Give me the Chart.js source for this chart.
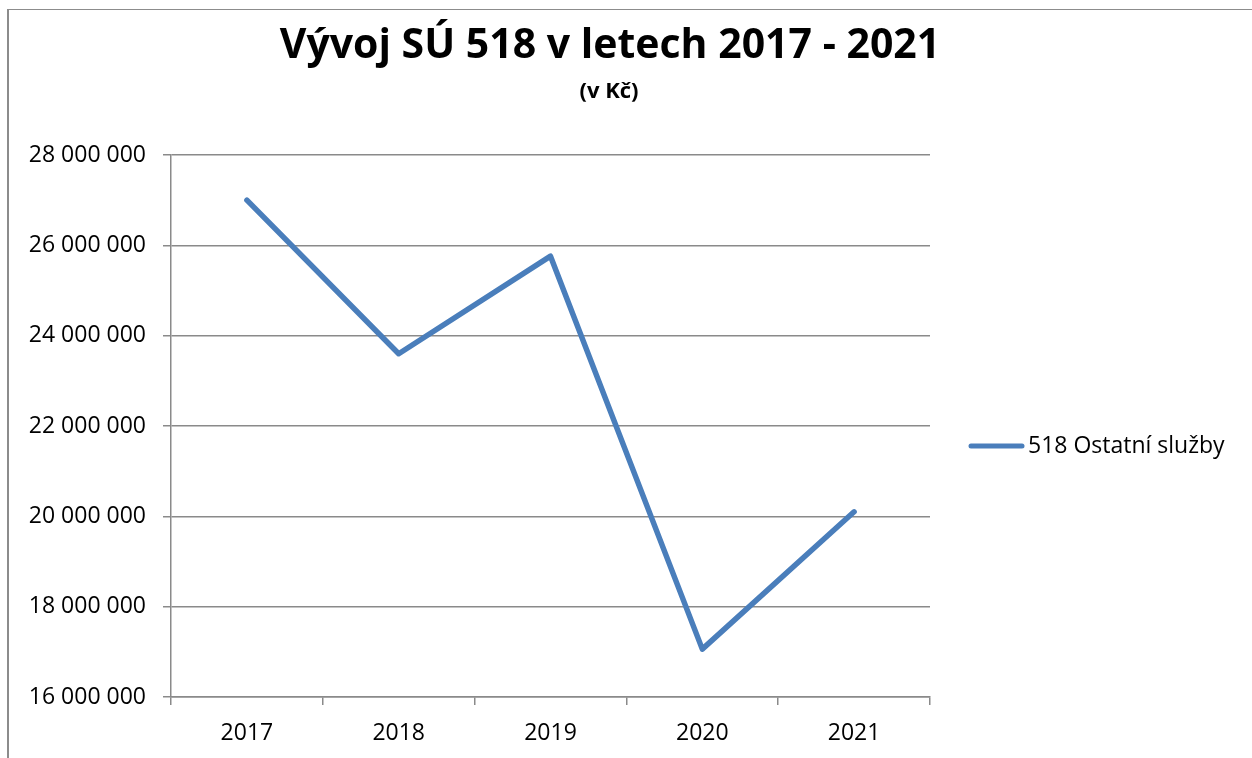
<!DOCTYPE html>
<html>
<head>
<meta charset="utf-8">
<title>Vývoj SÚ 518</title>
<script src="https://cdn.jsdelivr.net/npm/chart.js@4.4.1/dist/chart.umd.min.js"></script>
<style>
  html, body { margin: 0; padding: 0; background: #fff; }
  #wrap { width: 1252px; height: 758px; position: relative; }
</style>
</head>
<body>
<div id="wrap"><canvas id="chart" width="1252" height="758"></canvas></div>
<script>
// data
const years = ['2017', '2018', '2019', '2020', '2021'];
const values518 = [27000000, 23600000, 25760000, 17060000, 20100000];
const seriesName = '518 Ostatní služby';
const titleText = 'Vývoj SÚ 518 v letech 2017 - 2021';
const subtitleText = '(v Kč)';
const yMin = 16000000, yMax = 28000000, yStep = 2000000;

const FONT = "'Open Sans', 'Liberation Sans', sans-serif";
const LINE = '#4a7ebb';
const GRID = '#8a8a8a';

function fmtNum(v) {
  return String(v).replace(/\B(?=(\d{3})+(?!\d))/g, ' ');
}

// frame, titles and legend drawn straight on the canvas
const decor = {
  id: 'decor',
  beforeDraw(chart) {
    const ctx = chart.ctx;
    ctx.save();
    ctx.strokeStyle = '#8c8c8c';
    ctx.lineWidth = 1;
    ctx.beginPath();
    ctx.moveTo(8, 9.5); ctx.lineTo(1252, 9.5);
    ctx.stroke();
    ctx.lineWidth = 2;
    ctx.beginPath();
    ctx.moveTo(8, 9); ctx.lineTo(8, 758);
    ctx.stroke();
    ctx.restore();
  },
  afterDraw(chart) {
    const ctx = chart.ctx;
    ctx.save();
    ctx.fillStyle = '#000';
    ctx.textAlign = 'center';
    ctx.textBaseline = 'alphabetic';
    ctx.font = `bold 41px ${FONT}`;
    ctx.fillText(titleText, 610, 58);
    ctx.font = `bold 22px ${FONT}`;
    ctx.fillText(subtitleText, 609, 98);

    // legend
    const ds = chart.data.datasets[0];
    ctx.strokeStyle = ds.borderColor;
    ctx.lineWidth = 5;
    ctx.lineCap = 'round';
    ctx.beginPath();
    ctx.moveTo(971, 446); ctx.lineTo(1022, 446);
    ctx.stroke();
    ctx.textAlign = 'left';
    ctx.textBaseline = 'middle';
    ctx.font = `23px ${FONT}`;
    ctx.fillText(ds.label, 1028, 446);
    ctx.restore();
  }
};

new Chart(document.getElementById('chart'), {
  type: 'line',
  data: {
    labels: years,
    datasets: [{
      label: seriesName,
      data: values518,
      borderColor: LINE,
      backgroundColor: LINE,
      borderWidth: 5.5,
      borderCapStyle: 'round',
      borderJoinStyle: 'round',
      pointRadius: 0,
      tension: 0,
      fill: false
    }]
  },
  options: {
    responsive: false,
    animation: false,
    events: [],
    layout: { padding: { top: 155, left: 0, right: 322, bottom: 0 } },
    plugins: {
      legend: { display: false },
      title: { display: false },
      tooltip: { enabled: false }
    },
    scales: {
      x: {
        offset: true,
        grid: { offset: true, drawOnChartArea: false, drawTicks: true, tickLength: 8, color: GRID, lineWidth: 1.5 },
        border: { color: GRID, width: 1.5 },
        ticks: { color: '#000', font: { family: FONT, size: 23 }, padding: 15, maxRotation: 0 },
        afterFit: s => { s.height = 61; }
      },
      y: {
        min: yMin,
        max: yMax,
        grid: { color: GRID, lineWidth: 1.5, tickLength: 8 },
        border: { color: GRID, width: 1.5 },
        ticks: {
          stepSize: yStep,
          color: '#000',
          padding: 17,
          font: { family: FONT, size: 23 },
          callback: v => fmtNum(v)
        },
        afterFit: s => { s.width = 171; }
      }
    }
  },
  plugins: [decor]
});
</script>
</body>
</html>
